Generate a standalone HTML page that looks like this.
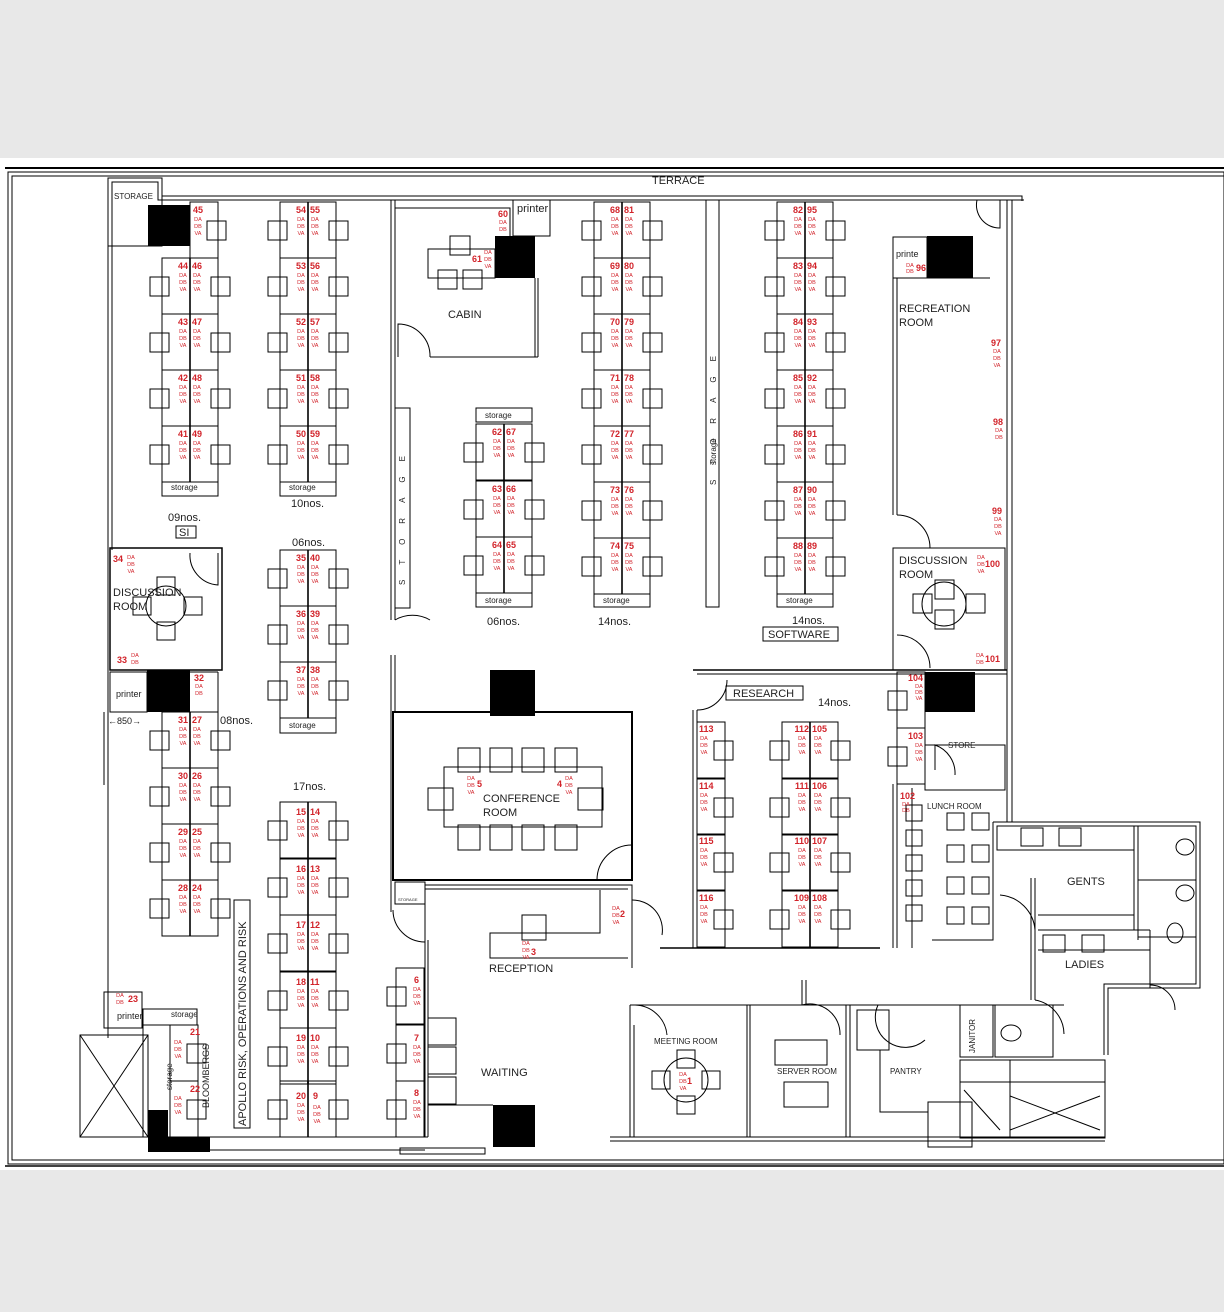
<!DOCTYPE html>
<html><head><meta charset="utf-8">
<style>
html,body{margin:0;padding:0;background:#e8e8e8;}
svg{display:block}
.n{font:bold 9px "Liberation Sans",sans-serif;fill:#d2232a}
.s{font:5.5px "Liberation Sans",sans-serif;fill:#d2232a;text-anchor:middle}
.t{font:11px "Liberation Sans",sans-serif;fill:#222}
.ts{font:8px "Liberation Sans",sans-serif;fill:#222}
.tm{font:9px "Liberation Sans",sans-serif;fill:#222}
</style></head><body>
<svg width="1224" height="1312" viewBox="0 0 1224 1312" xmlns="http://www.w3.org/2000/svg">
<defs>
<symbol id="pr" overflow="visible"><g fill="none" stroke="#000" stroke-width="1"><rect x="0" y="0" width="56" height="56"/><line x1="28" y1="0" x2="28" y2="56" stroke-width="1.6"/><rect x="-12" y="19" width="19" height="19"/><rect x="49" y="19" width="19" height="19"/></g></symbol>
<symbol id="sr" overflow="visible"><g fill="none" stroke="#000"><rect x="0" y="0" width="28" height="56"/><rect x="17" y="19" width="19" height="19"/></g></symbol>
<symbol id="sl" overflow="visible"><g fill="none" stroke="#000"><rect x="0" y="0" width="28" height="56"/><rect x="-9" y="19" width="19" height="19"/></g></symbol>
</defs>
<rect x="0" y="158" width="1224" height="1012" fill="#fff"/>
<g fill="none" stroke="#000" stroke-width="1">
<line x1="5" y1="168" x2="1224" y2="168" stroke-width="2"/>
<rect x="8" y="172" width="1216" height="992"/>
<rect x="12" y="176" width="1212" height="984"/>
<line x1="5" y1="1166" x2="1224" y2="1166" stroke-width="1.5"/>
<polyline points="108,246 108,178 162,178 162,196 1022,196 1022,201"/>
<polyline points="112,246 112,182 158,182 158,200 1000,200"/>
<rect x="108" y="178" width="54" height="68"/>
<line x1="108" y1="246" x2="108" y2="1038"/>
<line x1="112" y1="246" x2="112" y2="550"/>
<line x1="1007" y1="200" x2="1007" y2="822"/>
<line x1="1012" y1="200" x2="1012" y2="822"/>
<line x1="1000" y1="200" x2="1024" y2="200"/>
<path d="M977,200 A23,23 0 0 0 1000,228 L1000,200"/>
<line x1="391" y1="200" x2="391" y2="620"/><line x1="395" y1="200" x2="395" y2="620"/>
<polyline points="395,208 510,208 510,236"/>
<line x1="535" y1="278" x2="535" y2="357"/><line x1="538" y1="278" x2="538" y2="357"/>
<line x1="430" y1="357" x2="538" y2="357"/>
<path d="M398,357 L398,324 A32,32 0 0 1 430,357"/>
<rect x="513" y="200" width="37" height="36"/>
<rect x="428" y="249" width="67" height="29"/>
<rect x="450" y="236" width="20" height="19"/>
<rect x="438" y="270" width="19" height="19"/><rect x="463" y="270" width="19" height="19"/>
<rect x="395" y="408" width="15" height="200"/>
<rect x="706" y="200" width="13" height="407"/>
<line x1="391" y1="655" x2="391" y2="912"/><line x1="395" y1="655" x2="395" y2="712"/>
<path d="M395,620 A35,35 0 0 1 430,620"/>
<rect x="393" y="712" width="239" height="168" stroke-width="2"/>
<path d="M632,845 A35,35 0 0 0 597,880"/>
<rect x="444" y="767" width="158" height="60"/>
<rect x="458" y="748" width="22" height="24"/><rect x="490" y="748" width="22" height="24"/><rect x="522" y="748" width="22" height="24"/><rect x="555" y="748" width="22" height="24"/>
<rect x="458" y="825" width="22" height="25"/><rect x="490" y="825" width="22" height="25"/><rect x="522" y="825" width="22" height="25"/><rect x="555" y="825" width="22" height="25"/>
<rect x="428" y="788" width="25" height="22"/><rect x="578" y="788" width="25" height="22"/>
<rect x="395" y="882" width="30" height="22"/>
<path d="M393,910 A32,32 0 0 0 425,942"/>
<polyline points="425,885 632,885 632,968"/>
<line x1="425" y1="889" x2="628" y2="889"/>
<line x1="425" y1="889" x2="425" y2="1137"/><line x1="428" y1="940" x2="428" y2="1137"/>
<polyline points="600,890 600,933 490,933 490,958 628,958"/>
<rect x="522" y="915" width="24" height="25"/>
<path d="M632,900 A30,30 0 0 1 662,935"/>
<rect x="428" y="1018" width="28" height="27"/><rect x="428" y="1047" width="28" height="27"/><rect x="428" y="1077" width="28" height="27"/>
<line x1="428" y1="1105" x2="493" y2="1105"/>
<line x1="693" y1="670" x2="1007" y2="670" stroke-width="1.5"/><line x1="697" y1="674" x2="1007" y2="674"/>
<line x1="693" y1="710" x2="693" y2="948"/><line x1="697" y1="710" x2="697" y2="948"/>
<path d="M697,710 A30,30 0 0 0 727,680"/>
<rect x="726" y="686" width="77" height="14"/>
<line x1="660" y1="948" x2="880" y2="948" stroke-width="1.5"/>
<rect x="925" y="745" width="80" height="45"/>
<line x1="893" y1="784" x2="893" y2="948"/><line x1="897" y1="784" x2="897" y2="948"/>
<line x1="912" y1="788" x2="912" y2="948"/>
<path d="M935,770 L935,745 A30,30 0 0 1 955,775"/>
<rect x="947" y="813" width="17" height="17"/><rect x="972" y="813" width="17" height="17"/>
<rect x="947" y="845" width="17" height="17"/><rect x="972" y="845" width="17" height="17"/>
<rect x="947" y="877" width="17" height="17"/><rect x="972" y="877" width="17" height="17"/>
<rect x="947" y="907" width="17" height="17"/><rect x="972" y="907" width="17" height="17"/>
<rect x="906" y="805" width="16" height="16"/><rect x="906" y="830" width="16" height="16"/><rect x="906" y="855" width="16" height="16"/><rect x="906" y="880" width="16" height="16"/><rect x="906" y="905" width="16" height="16"/>
<polyline points="932,940 993,940 993,822"/>
<polyline points="993,822 1200,822 1200,988 1108,988 1108,1055"/>
<polyline points="997,826 1196,826 1196,984 1104,984 1104,1055"/>
<rect x="997" y="826" width="137" height="24"/>
<rect x="1021" y="828" width="22" height="18"/><rect x="1059" y="828" width="22" height="18"/>
<line x1="1134" y1="826" x2="1134" y2="930"/><line x1="1138" y1="826" x2="1138" y2="940"/>
<line x1="1138" y1="880" x2="1196" y2="880"/><line x1="1138" y1="937" x2="1196" y2="937"/>
<ellipse cx="1185" cy="847" rx="9" ry="8"/><ellipse cx="1185" cy="893" rx="9" ry="8"/><ellipse cx="1175" cy="933" rx="8" ry="10"/>
<line x1="1038" y1="915" x2="1134" y2="915"/><line x1="1038" y1="930" x2="1150" y2="930"/>
<line x1="1035" y1="878" x2="1035" y2="1000"/><line x1="1031" y1="878" x2="1031" y2="1000"/>
<path d="M1000,895 A38,38 0 0 1 1035,930"/>
<rect x="1043" y="935" width="22" height="17"/><rect x="1082" y="935" width="22" height="17"/>
<line x1="1038" y1="950" x2="1150" y2="950"/><line x1="1150" y1="930" x2="1150" y2="988"/>
<path d="M1035,1000 A35,35 0 0 1 1064,1034"/>
<path d="M1150,985 A25,25 0 0 1 1175,1010"/>
<line x1="630" y1="1005" x2="1064" y2="1005"/>
<line x1="630" y1="1005" x2="630" y2="1137"/><line x1="634" y1="1025" x2="634" y2="1137"/>
<line x1="747" y1="1005" x2="747" y2="1137"/><line x1="750" y1="1005" x2="750" y2="1137"/>
<line x1="846" y1="1005" x2="846" y2="1137"/><line x1="850" y1="1005" x2="850" y2="1137"/>
<line x1="802" y1="980" x2="802" y2="1005"/><line x1="806" y1="980" x2="806" y2="1005"/>
<path d="M634,1005 A33,33 0 0 1 667,1035"/>
<path d="M802,1005 A30,30 0 0 1 840,1035"/>
<path d="M878,1005 A30,30 0 0 0 925,1040"/>
<circle cx="686" cy="1080" r="22"/>
<rect x="677" y="1050" width="18" height="18"/><rect x="677" y="1096" width="18" height="18"/><rect x="652" y="1071" width="18" height="18"/><rect x="702" y="1071" width="18" height="18"/>
<rect x="775" y="1040" width="52" height="25"/><rect x="784" y="1082" width="44" height="25"/>
<rect x="857" y="1010" width="32" height="40"/>
<polyline points="880,1050 880,1112 928,1112"/>
<rect x="928" y="1102" width="44" height="45"/>
<rect x="960" y="1005" width="33" height="52"/>
<rect x="995" y="1005" width="58" height="52"/>
<ellipse cx="1011" cy="1033" rx="10" ry="8"/>
<rect x="960" y="1060" width="145" height="78"/>
<line x1="1010" y1="1060" x2="1010" y2="1138"/>
<line x1="960" y1="1082" x2="1105" y2="1082"/>
<path d="M1010,1096 L1100,1130 M1010,1130 L1100,1096 M964,1090 L1000,1130"/>
<line x1="610" y1="1137" x2="1105" y2="1137"/><line x1="610" y1="1141" x2="1105" y2="1141"/>
<rect x="110" y="548" width="112" height="122" stroke-width="1.5"/>
<path d="M218,553 L218,585 A30,30 0 0 1 190,553"/>
<circle cx="166" cy="606" r="20"/>
<rect x="157" y="577" width="18" height="18"/><rect x="157" y="622" width="18" height="18"/><rect x="133" y="597" width="18" height="18"/><rect x="184" y="597" width="18" height="18"/>
<rect x="110" y="672" width="37" height="40"/>
<line x1="190" y1="672" x2="218" y2="672"/><line x1="218" y1="672" x2="218" y2="712"/>
<line x1="104" y1="712" x2="104" y2="785"/>
<rect x="893" y="548" width="112" height="122"/>
<line x1="893" y1="237" x2="893" y2="515"/><line x1="897" y1="278" x2="897" y2="515"/>
<rect x="893" y="237" width="34" height="41"/><line x1="927" y1="278" x2="990" y2="278"/>
<path d="M897,515 A33,33 0 0 1 930,548"/>
<path d="M897,635 A33,33 0 0 1 930,668"/>
<circle cx="944" cy="604" r="22"/>
<rect x="935" y="580" width="19" height="19"/><rect x="935" y="610" width="19" height="19"/><rect x="913" y="594" width="19" height="19"/><rect x="966" y="594" width="19" height="19"/>
<rect x="104" y="992" width="38" height="36"/>
<rect x="143" y="1009" width="54" height="16"/>
<rect x="143" y="1025" width="27" height="112"/>
<path d="M80,1035 L148,1137 M148,1035 L80,1137"/><rect x="80" y="1035" width="68" height="102"/>
<rect x="234" y="900" width="16" height="228"/>
<line x1="108" y1="1137" x2="428" y2="1137"/><line x1="148" y1="1150" x2="425" y2="1150"/>
<rect x="400" y="1148" width="85" height="6"/>
<rect x="162" y="482" width="56" height="14"/><rect x="280" y="482" width="56" height="14"/>
<rect x="476" y="408" width="56" height="14"/><rect x="476" y="593" width="56" height="14"/>
<rect x="594" y="594" width="56" height="13"/><rect x="777" y="594" width="56" height="13"/>
<rect x="280" y="718" width="56" height="15"/>
<rect x="176" y="526" width="20" height="12"/>
<rect x="763" y="627" width="75" height="14"/>
</g>
<g fill="#000">
<rect x="148" y="205" width="42" height="41"/>
<rect x="495" y="236" width="40" height="42"/>
<rect x="927" y="236" width="46" height="42"/>
<rect x="147" y="670" width="43" height="42"/>
<rect x="490" y="670" width="45" height="46"/>
<rect x="925" y="672" width="50" height="40"/>
<rect x="493" y="1105" width="42" height="42"/>
<rect x="148" y="1110" width="20" height="42"/><rect x="168" y="1137" width="42" height="15"/>
</g>
<g transform="translate(190,202)"><use href="#sr"/><text class="n" x="3" y="11">45</text><text class="s"><tspan x="8" y="19">DA</tspan><tspan x="8" y="26">DB</tspan><tspan x="8" y="33">VA</tspan></text></g>
<g transform="translate(162,258)"><use href="#pr"/><text class="n" x="26" y="11" text-anchor="end">44</text><text class="n" x="30" y="11">46</text><text class="s"><tspan x="21" y="19">DA</tspan><tspan x="21" y="26">DB</tspan><tspan x="21" y="33">VA</tspan><tspan x="35" y="19">DA</tspan><tspan x="35" y="26">DB</tspan><tspan x="35" y="33">VA</tspan></text></g>
<g transform="translate(162,314)"><use href="#pr"/><text class="n" x="26" y="11" text-anchor="end">43</text><text class="n" x="30" y="11">47</text><text class="s"><tspan x="21" y="19">DA</tspan><tspan x="21" y="26">DB</tspan><tspan x="21" y="33">VA</tspan><tspan x="35" y="19">DA</tspan><tspan x="35" y="26">DB</tspan><tspan x="35" y="33">VA</tspan></text></g>
<g transform="translate(162,370)"><use href="#pr"/><text class="n" x="26" y="11" text-anchor="end">42</text><text class="n" x="30" y="11">48</text><text class="s"><tspan x="21" y="19">DA</tspan><tspan x="21" y="26">DB</tspan><tspan x="21" y="33">VA</tspan><tspan x="35" y="19">DA</tspan><tspan x="35" y="26">DB</tspan><tspan x="35" y="33">VA</tspan></text></g>
<g transform="translate(162,426)"><use href="#pr"/><text class="n" x="26" y="11" text-anchor="end">41</text><text class="n" x="30" y="11">49</text><text class="s"><tspan x="21" y="19">DA</tspan><tspan x="21" y="26">DB</tspan><tspan x="21" y="33">VA</tspan><tspan x="35" y="19">DA</tspan><tspan x="35" y="26">DB</tspan><tspan x="35" y="33">VA</tspan></text></g>
<g transform="translate(280,202)"><use href="#pr"/><text class="n" x="26" y="11" text-anchor="end">54</text><text class="n" x="30" y="11">55</text><text class="s"><tspan x="21" y="19">DA</tspan><tspan x="21" y="26">DB</tspan><tspan x="21" y="33">VA</tspan><tspan x="35" y="19">DA</tspan><tspan x="35" y="26">DB</tspan><tspan x="35" y="33">VA</tspan></text></g>
<g transform="translate(280,258)"><use href="#pr"/><text class="n" x="26" y="11" text-anchor="end">53</text><text class="n" x="30" y="11">56</text><text class="s"><tspan x="21" y="19">DA</tspan><tspan x="21" y="26">DB</tspan><tspan x="21" y="33">VA</tspan><tspan x="35" y="19">DA</tspan><tspan x="35" y="26">DB</tspan><tspan x="35" y="33">VA</tspan></text></g>
<g transform="translate(280,314)"><use href="#pr"/><text class="n" x="26" y="11" text-anchor="end">52</text><text class="n" x="30" y="11">57</text><text class="s"><tspan x="21" y="19">DA</tspan><tspan x="21" y="26">DB</tspan><tspan x="21" y="33">VA</tspan><tspan x="35" y="19">DA</tspan><tspan x="35" y="26">DB</tspan><tspan x="35" y="33">VA</tspan></text></g>
<g transform="translate(280,370)"><use href="#pr"/><text class="n" x="26" y="11" text-anchor="end">51</text><text class="n" x="30" y="11">58</text><text class="s"><tspan x="21" y="19">DA</tspan><tspan x="21" y="26">DB</tspan><tspan x="21" y="33">VA</tspan><tspan x="35" y="19">DA</tspan><tspan x="35" y="26">DB</tspan><tspan x="35" y="33">VA</tspan></text></g>
<g transform="translate(280,426)"><use href="#pr"/><text class="n" x="26" y="11" text-anchor="end">50</text><text class="n" x="30" y="11">59</text><text class="s"><tspan x="21" y="19">DA</tspan><tspan x="21" y="26">DB</tspan><tspan x="21" y="33">VA</tspan><tspan x="35" y="19">DA</tspan><tspan x="35" y="26">DB</tspan><tspan x="35" y="33">VA</tspan></text></g>
<g transform="translate(476,424)"><use href="#pr"/><text class="n" x="26" y="11" text-anchor="end">62</text><text class="n" x="30" y="11">67</text><text class="s"><tspan x="21" y="19">DA</tspan><tspan x="21" y="26">DB</tspan><tspan x="21" y="33">VA</tspan><tspan x="35" y="19">DA</tspan><tspan x="35" y="26">DB</tspan><tspan x="35" y="33">VA</tspan></text></g>
<g transform="translate(476,481)"><use href="#pr"/><text class="n" x="26" y="11" text-anchor="end">63</text><text class="n" x="30" y="11">66</text><text class="s"><tspan x="21" y="19">DA</tspan><tspan x="21" y="26">DB</tspan><tspan x="21" y="33">VA</tspan><tspan x="35" y="19">DA</tspan><tspan x="35" y="26">DB</tspan><tspan x="35" y="33">VA</tspan></text></g>
<g transform="translate(476,537)"><use href="#pr"/><text class="n" x="26" y="11" text-anchor="end">64</text><text class="n" x="30" y="11">65</text><text class="s"><tspan x="21" y="19">DA</tspan><tspan x="21" y="26">DB</tspan><tspan x="21" y="33">VA</tspan><tspan x="35" y="19">DA</tspan><tspan x="35" y="26">DB</tspan><tspan x="35" y="33">VA</tspan></text></g>
<g transform="translate(594,202)"><use href="#pr"/><text class="n" x="26" y="11" text-anchor="end">68</text><text class="n" x="30" y="11">81</text><text class="s"><tspan x="21" y="19">DA</tspan><tspan x="21" y="26">DB</tspan><tspan x="21" y="33">VA</tspan><tspan x="35" y="19">DA</tspan><tspan x="35" y="26">DB</tspan><tspan x="35" y="33">VA</tspan></text></g>
<g transform="translate(594,258)"><use href="#pr"/><text class="n" x="26" y="11" text-anchor="end">69</text><text class="n" x="30" y="11">80</text><text class="s"><tspan x="21" y="19">DA</tspan><tspan x="21" y="26">DB</tspan><tspan x="21" y="33">VA</tspan><tspan x="35" y="19">DA</tspan><tspan x="35" y="26">DB</tspan><tspan x="35" y="33">VA</tspan></text></g>
<g transform="translate(594,314)"><use href="#pr"/><text class="n" x="26" y="11" text-anchor="end">70</text><text class="n" x="30" y="11">79</text><text class="s"><tspan x="21" y="19">DA</tspan><tspan x="21" y="26">DB</tspan><tspan x="21" y="33">VA</tspan><tspan x="35" y="19">DA</tspan><tspan x="35" y="26">DB</tspan><tspan x="35" y="33">VA</tspan></text></g>
<g transform="translate(594,370)"><use href="#pr"/><text class="n" x="26" y="11" text-anchor="end">71</text><text class="n" x="30" y="11">78</text><text class="s"><tspan x="21" y="19">DA</tspan><tspan x="21" y="26">DB</tspan><tspan x="21" y="33">VA</tspan><tspan x="35" y="19">DA</tspan><tspan x="35" y="26">DB</tspan><tspan x="35" y="33">VA</tspan></text></g>
<g transform="translate(594,426)"><use href="#pr"/><text class="n" x="26" y="11" text-anchor="end">72</text><text class="n" x="30" y="11">77</text><text class="s"><tspan x="21" y="19">DA</tspan><tspan x="21" y="26">DB</tspan><tspan x="21" y="33">VA</tspan><tspan x="35" y="19">DA</tspan><tspan x="35" y="26">DB</tspan><tspan x="35" y="33">VA</tspan></text></g>
<g transform="translate(594,482)"><use href="#pr"/><text class="n" x="26" y="11" text-anchor="end">73</text><text class="n" x="30" y="11">76</text><text class="s"><tspan x="21" y="19">DA</tspan><tspan x="21" y="26">DB</tspan><tspan x="21" y="33">VA</tspan><tspan x="35" y="19">DA</tspan><tspan x="35" y="26">DB</tspan><tspan x="35" y="33">VA</tspan></text></g>
<g transform="translate(594,538)"><use href="#pr"/><text class="n" x="26" y="11" text-anchor="end">74</text><text class="n" x="30" y="11">75</text><text class="s"><tspan x="21" y="19">DA</tspan><tspan x="21" y="26">DB</tspan><tspan x="21" y="33">VA</tspan><tspan x="35" y="19">DA</tspan><tspan x="35" y="26">DB</tspan><tspan x="35" y="33">VA</tspan></text></g>
<g transform="translate(777,202)"><use href="#pr"/><text class="n" x="26" y="11" text-anchor="end">82</text><text class="n" x="30" y="11">95</text><text class="s"><tspan x="21" y="19">DA</tspan><tspan x="21" y="26">DB</tspan><tspan x="21" y="33">VA</tspan><tspan x="35" y="19">DA</tspan><tspan x="35" y="26">DB</tspan><tspan x="35" y="33">VA</tspan></text></g>
<g transform="translate(777,258)"><use href="#pr"/><text class="n" x="26" y="11" text-anchor="end">83</text><text class="n" x="30" y="11">94</text><text class="s"><tspan x="21" y="19">DA</tspan><tspan x="21" y="26">DB</tspan><tspan x="21" y="33">VA</tspan><tspan x="35" y="19">DA</tspan><tspan x="35" y="26">DB</tspan><tspan x="35" y="33">VA</tspan></text></g>
<g transform="translate(777,314)"><use href="#pr"/><text class="n" x="26" y="11" text-anchor="end">84</text><text class="n" x="30" y="11">93</text><text class="s"><tspan x="21" y="19">DA</tspan><tspan x="21" y="26">DB</tspan><tspan x="21" y="33">VA</tspan><tspan x="35" y="19">DA</tspan><tspan x="35" y="26">DB</tspan><tspan x="35" y="33">VA</tspan></text></g>
<g transform="translate(777,370)"><use href="#pr"/><text class="n" x="26" y="11" text-anchor="end">85</text><text class="n" x="30" y="11">92</text><text class="s"><tspan x="21" y="19">DA</tspan><tspan x="21" y="26">DB</tspan><tspan x="21" y="33">VA</tspan><tspan x="35" y="19">DA</tspan><tspan x="35" y="26">DB</tspan><tspan x="35" y="33">VA</tspan></text></g>
<g transform="translate(777,426)"><use href="#pr"/><text class="n" x="26" y="11" text-anchor="end">86</text><text class="n" x="30" y="11">91</text><text class="s"><tspan x="21" y="19">DA</tspan><tspan x="21" y="26">DB</tspan><tspan x="21" y="33">VA</tspan><tspan x="35" y="19">DA</tspan><tspan x="35" y="26">DB</tspan><tspan x="35" y="33">VA</tspan></text></g>
<g transform="translate(777,482)"><use href="#pr"/><text class="n" x="26" y="11" text-anchor="end">87</text><text class="n" x="30" y="11">90</text><text class="s"><tspan x="21" y="19">DA</tspan><tspan x="21" y="26">DB</tspan><tspan x="21" y="33">VA</tspan><tspan x="35" y="19">DA</tspan><tspan x="35" y="26">DB</tspan><tspan x="35" y="33">VA</tspan></text></g>
<g transform="translate(777,538)"><use href="#pr"/><text class="n" x="26" y="11" text-anchor="end">88</text><text class="n" x="30" y="11">89</text><text class="s"><tspan x="21" y="19">DA</tspan><tspan x="21" y="26">DB</tspan><tspan x="21" y="33">VA</tspan><tspan x="35" y="19">DA</tspan><tspan x="35" y="26">DB</tspan><tspan x="35" y="33">VA</tspan></text></g>
<g transform="translate(280,550)"><use href="#pr"/><text class="n" x="26" y="11" text-anchor="end">35</text><text class="n" x="30" y="11">40</text><text class="s"><tspan x="21" y="19">DA</tspan><tspan x="21" y="26">DB</tspan><tspan x="21" y="33">VA</tspan><tspan x="35" y="19">DA</tspan><tspan x="35" y="26">DB</tspan><tspan x="35" y="33">VA</tspan></text></g>
<g transform="translate(280,606)"><use href="#pr"/><text class="n" x="26" y="11" text-anchor="end">36</text><text class="n" x="30" y="11">39</text><text class="s"><tspan x="21" y="19">DA</tspan><tspan x="21" y="26">DB</tspan><tspan x="21" y="33">VA</tspan><tspan x="35" y="19">DA</tspan><tspan x="35" y="26">DB</tspan><tspan x="35" y="33">VA</tspan></text></g>
<g transform="translate(280,662)"><use href="#pr"/><text class="n" x="26" y="11" text-anchor="end">37</text><text class="n" x="30" y="11">38</text><text class="s"><tspan x="21" y="19">DA</tspan><tspan x="21" y="26">DB</tspan><tspan x="21" y="33">VA</tspan><tspan x="35" y="19">DA</tspan><tspan x="35" y="26">DB</tspan><tspan x="35" y="33">VA</tspan></text></g>
<g transform="translate(162,712)"><use href="#pr"/><text class="n" x="26" y="11" text-anchor="end">31</text><text class="n" x="30" y="11">27</text><text class="s"><tspan x="21" y="19">DA</tspan><tspan x="21" y="26">DB</tspan><tspan x="21" y="33">VA</tspan><tspan x="35" y="19">DA</tspan><tspan x="35" y="26">DB</tspan><tspan x="35" y="33">VA</tspan></text></g>
<g transform="translate(162,768)"><use href="#pr"/><text class="n" x="26" y="11" text-anchor="end">30</text><text class="n" x="30" y="11">26</text><text class="s"><tspan x="21" y="19">DA</tspan><tspan x="21" y="26">DB</tspan><tspan x="21" y="33">VA</tspan><tspan x="35" y="19">DA</tspan><tspan x="35" y="26">DB</tspan><tspan x="35" y="33">VA</tspan></text></g>
<g transform="translate(162,824)"><use href="#pr"/><text class="n" x="26" y="11" text-anchor="end">29</text><text class="n" x="30" y="11">25</text><text class="s"><tspan x="21" y="19">DA</tspan><tspan x="21" y="26">DB</tspan><tspan x="21" y="33">VA</tspan><tspan x="35" y="19">DA</tspan><tspan x="35" y="26">DB</tspan><tspan x="35" y="33">VA</tspan></text></g>
<g transform="translate(162,880)"><use href="#pr"/><text class="n" x="26" y="11" text-anchor="end">28</text><text class="n" x="30" y="11">24</text><text class="s"><tspan x="21" y="19">DA</tspan><tspan x="21" y="26">DB</tspan><tspan x="21" y="33">VA</tspan><tspan x="35" y="19">DA</tspan><tspan x="35" y="26">DB</tspan><tspan x="35" y="33">VA</tspan></text></g>
<g transform="translate(280,802)"><use href="#pr"/><text class="n" x="26" y="13" text-anchor="end">15</text><text class="n" x="30" y="13">14</text><text class="s"><tspan x="21" y="21">DA</tspan><tspan x="21" y="28">DB</tspan><tspan x="21" y="35">VA</tspan><tspan x="35" y="21">DA</tspan><tspan x="35" y="28">DB</tspan><tspan x="35" y="35">VA</tspan></text></g>
<g transform="translate(280,859)"><use href="#pr"/><text class="n" x="26" y="13" text-anchor="end">16</text><text class="n" x="30" y="13">13</text><text class="s"><tspan x="21" y="21">DA</tspan><tspan x="21" y="28">DB</tspan><tspan x="21" y="35">VA</tspan><tspan x="35" y="21">DA</tspan><tspan x="35" y="28">DB</tspan><tspan x="35" y="35">VA</tspan></text></g>
<g transform="translate(280,915)"><use href="#pr"/><text class="n" x="26" y="13" text-anchor="end">17</text><text class="n" x="30" y="13">12</text><text class="s"><tspan x="21" y="21">DA</tspan><tspan x="21" y="28">DB</tspan><tspan x="21" y="35">VA</tspan><tspan x="35" y="21">DA</tspan><tspan x="35" y="28">DB</tspan><tspan x="35" y="35">VA</tspan></text></g>
<g transform="translate(280,972)"><use href="#pr"/><text class="n" x="26" y="13" text-anchor="end">18</text><text class="n" x="30" y="13">11</text><text class="s"><tspan x="21" y="21">DA</tspan><tspan x="21" y="28">DB</tspan><tspan x="21" y="35">VA</tspan><tspan x="35" y="21">DA</tspan><tspan x="35" y="28">DB</tspan><tspan x="35" y="35">VA</tspan></text></g>
<g transform="translate(280,1028)"><use href="#pr"/><text class="n" x="26" y="13" text-anchor="end">19</text><text class="n" x="30" y="13">10</text><text class="s"><tspan x="21" y="21">DA</tspan><tspan x="21" y="28">DB</tspan><tspan x="21" y="35">VA</tspan><tspan x="35" y="21">DA</tspan><tspan x="35" y="28">DB</tspan><tspan x="35" y="35">VA</tspan></text></g>
<g transform="translate(280,1081)"><use href="#pr"/><text class="n" x="26" y="18" text-anchor="end">20</text><text class="n" x="33" y="18">9</text><text class="s"><tspan x="21" y="26">DA</tspan><tspan x="21" y="33">DB</tspan><tspan x="21" y="40">VA</tspan><tspan x="37" y="28">DA</tspan><tspan x="37" y="35">DB</tspan><tspan x="37" y="42">VA</tspan></text></g>
<g transform="translate(782,722)"><use href="#pr"/><text class="n" x="27" y="10" text-anchor="end">112</text><text class="n" x="30" y="10">105</text><text class="s"><tspan x="20" y="18">DA</tspan><tspan x="20" y="25">DB</tspan><tspan x="20" y="32">VA</tspan><tspan x="36" y="18">DA</tspan><tspan x="36" y="25">DB</tspan><tspan x="36" y="32">VA</tspan></text></g>
<g transform="translate(782,779)"><use href="#pr"/><text class="n" x="27" y="10" text-anchor="end">111</text><text class="n" x="30" y="10">106</text><text class="s"><tspan x="20" y="18">DA</tspan><tspan x="20" y="25">DB</tspan><tspan x="20" y="32">VA</tspan><tspan x="36" y="18">DA</tspan><tspan x="36" y="25">DB</tspan><tspan x="36" y="32">VA</tspan></text></g>
<g transform="translate(782,834)"><use href="#pr"/><text class="n" x="27" y="10" text-anchor="end">110</text><text class="n" x="30" y="10">107</text><text class="s"><tspan x="20" y="18">DA</tspan><tspan x="20" y="25">DB</tspan><tspan x="20" y="32">VA</tspan><tspan x="36" y="18">DA</tspan><tspan x="36" y="25">DB</tspan><tspan x="36" y="32">VA</tspan></text></g>
<g transform="translate(782,891)"><use href="#pr"/><text class="n" x="27" y="10" text-anchor="end">109</text><text class="n" x="30" y="10">108</text><text class="s"><tspan x="20" y="18">DA</tspan><tspan x="20" y="25">DB</tspan><tspan x="20" y="32">VA</tspan><tspan x="36" y="18">DA</tspan><tspan x="36" y="25">DB</tspan><tspan x="36" y="32">VA</tspan></text></g>
<g transform="translate(697,722)"><use href="#sr"/><text class="n" x="2" y="10">113</text><text class="s"><tspan x="7" y="18">DA</tspan><tspan x="7" y="25">DB</tspan><tspan x="7" y="32">VA</tspan></text></g>
<g transform="translate(697,779)"><use href="#sr"/><text class="n" x="2" y="10">114</text><text class="s"><tspan x="7" y="18">DA</tspan><tspan x="7" y="25">DB</tspan><tspan x="7" y="32">VA</tspan></text></g>
<g transform="translate(697,834)"><use href="#sr"/><text class="n" x="2" y="10">115</text><text class="s"><tspan x="7" y="18">DA</tspan><tspan x="7" y="25">DB</tspan><tspan x="7" y="32">VA</tspan></text></g>
<g transform="translate(697,891)"><use href="#sr"/><text class="n" x="2" y="10">116</text><text class="s"><tspan x="7" y="18">DA</tspan><tspan x="7" y="25">DB</tspan><tspan x="7" y="32">VA</tspan></text></g>
<g transform="translate(897,672)"><use href="#sl"/><text class="n" x="11" y="9">104</text><text class="s"><tspan x="22" y="16">DA</tspan><tspan x="22" y="22">DB</tspan><tspan x="22" y="28">VA</tspan></text></g>
<g transform="translate(897,728)"><use href="#sl"/><text class="n" x="11" y="11">103</text><text class="s"><tspan x="22" y="19">DA</tspan><tspan x="22" y="26">DB</tspan><tspan x="22" y="33">VA</tspan></text></g>
<g transform="translate(396,968)"><use href="#sl"/><text class="n" x="18" y="15">6</text><text class="s"><tspan x="21" y="23">DA</tspan><tspan x="21" y="30">DB</tspan><tspan x="21" y="37">VA</tspan></text></g>
<g transform="translate(396,1025)"><use href="#sl"/><text class="n" x="18" y="16">7</text><text class="s"><tspan x="21" y="24">DA</tspan><tspan x="21" y="31">DB</tspan><tspan x="21" y="38">VA</tspan></text></g>
<g transform="translate(396,1081)"><use href="#sl"/><text class="n" x="18" y="15">8</text><text class="s"><tspan x="21" y="23">DA</tspan><tspan x="21" y="30">DB</tspan><tspan x="21" y="37">VA</tspan></text></g>
<g transform="translate(170,1025)"><use href="#sr"/><text class="n" x="20" y="10">21</text><text class="s"><tspan x="8" y="19">DA</tspan><tspan x="8" y="26">DB</tspan><tspan x="8" y="33">VA</tspan></text></g>
<g transform="translate(170,1081)"><use href="#sr"/><text class="n" x="20" y="11">22</text><text class="s"><tspan x="8" y="19">DA</tspan><tspan x="8" y="26">DB</tspan><tspan x="8" y="33">VA</tspan></text></g>
<text class="n" x="498" y="217">60</text><text class="s"><tspan x="503" y="224">DA</tspan><tspan x="503" y="231">DB</tspan></text>
<text class="n" x="472" y="262">61</text><text class="s"><tspan x="488" y="254">DA</tspan><tspan x="488" y="261">DB</tspan><tspan x="488" y="268">VA</tspan></text>
<text class="s"><tspan x="910" y="267">DA</tspan><tspan x="910" y="273">DB</tspan></text><text class="n" x="916" y="271">96</text>
<text class="n" x="991" y="346">97</text><text class="s"><tspan x="997" y="353">DA</tspan><tspan x="997" y="360">DB</tspan><tspan x="997" y="367">VA</tspan></text>
<text class="n" x="993" y="425">98</text><text class="s"><tspan x="999" y="432">DA</tspan><tspan x="999" y="439">DB</tspan></text>
<text class="n" x="992" y="514">99</text><text class="s"><tspan x="998" y="521">DA</tspan><tspan x="998" y="528">DB</tspan><tspan x="998" y="535">VA</tspan></text>
<text class="s"><tspan x="981" y="559">DA</tspan><tspan x="981" y="566">DB</tspan><tspan x="981" y="573">VA</tspan></text><text class="n" x="985" y="567">100</text>
<text class="s"><tspan x="980" y="657">DA</tspan><tspan x="980" y="664">DB</tspan></text><text class="n" x="985" y="662">101</text>
<text class="n" x="900" y="799">102</text><text class="s"><tspan x="906" y="806">DA</tspan><tspan x="906" y="812">DB</tspan></text>
<text class="n" x="113" y="562">34</text><text class="s"><tspan x="131" y="559">DA</tspan><tspan x="131" y="566">DB</tspan><tspan x="131" y="573">VA</tspan></text>
<text class="n" x="117" y="663">33</text><text class="s"><tspan x="135" y="657">DA</tspan><tspan x="135" y="664">DB</tspan></text>
<text class="n" x="194" y="681">32</text><text class="s"><tspan x="199" y="688">DA</tspan><tspan x="199" y="695">DB</tspan></text>
<text class="s"><tspan x="120" y="997">DA</tspan><tspan x="120" y="1004">DB</tspan></text><text class="n" x="128" y="1002">23</text>
<text class="s"><tspan x="471" y="780">DA</tspan><tspan x="471" y="787">DB</tspan><tspan x="471" y="794">VA</tspan></text><text class="n" x="477" y="787">5</text>
<text class="n" x="557" y="787">4</text><text class="s"><tspan x="569" y="780">DA</tspan><tspan x="569" y="787">DB</tspan><tspan x="569" y="794">VA</tspan></text>
<text class="s"><tspan x="616" y="910">DA</tspan><tspan x="616" y="917">DB</tspan><tspan x="616" y="924">VA</tspan></text><text class="n" x="620" y="917">2</text>
<text class="s"><tspan x="526" y="945">DA</tspan><tspan x="526" y="952">DB</tspan><tspan x="526" y="959">VA</tspan></text><text class="n" x="531" y="955">3</text>
<text class="s"><tspan x="683" y="1076">DA</tspan><tspan x="683" y="1083">DB</tspan><tspan x="683" y="1090">VA</tspan></text><text class="n" x="687" y="1084">1</text>
<text class="ts" x="114" y="199">STORAGE</text>
<text class="t" x="652" y="184">TERRACE</text>
<text class="t" x="517" y="212">printer</text>
<text class="t" x="448" y="318">CABIN</text>
<text class="ts" x="171" y="490">storage</text><text class="ts" x="289" y="490">storage</text>
<text class="ts" x="485" y="418">storage</text><text class="ts" x="485" y="603">storage</text>
<text class="ts" x="603" y="603">storage</text><text class="ts" x="786" y="603">storage</text>
<text class="ts" x="289" y="728">storage</text>
<text class="t" x="168" y="521">09nos.</text><text class="t" x="179" y="536">SI</text>
<text class="t" x="291" y="507">10nos.</text>
<text class="t" x="292" y="546">06nos.</text>
<text class="t" x="487" y="625">06nos.</text>
<text class="t" x="598" y="625">14nos.</text>
<text class="t" x="792" y="624">14nos.</text>
<text class="t" x="768" y="638">SOFTWARE</text>
<text class="t" x="733" y="697">RESEARCH</text>
<text class="t" x="818" y="706">14nos.</text>
<text class="t" x="220" y="724">08nos.</text>
<text class="t" x="293" y="790">17nos.</text>
<text class="tm" x="108" y="724">←850→</text>
<text class="tm" x="116" y="697">printer</text>
<text class="t" x="113" y="596">DISCUSSION</text><text class="t" x="113" y="610">ROOM</text>
<text class="t" x="899" y="312">RECREATION</text><text class="t" x="899" y="326">ROOM</text>
<text class="t" x="899" y="564">DISCUSSION</text><text class="t" x="899" y="578">ROOM</text>
<text class="tm" x="896" y="257">printe</text>
<text class="t" x="483" y="802">CONFERENCE</text><text class="t" x="483" y="816">ROOM</text>
<text class="t" x="489" y="972">RECEPTION</text>
<text class="t" x="481" y="1076">WAITING</text>
<text class="ts" x="948" y="748">STORE</text>
<text class="ts" x="927" y="809">LUNCH ROOM</text>
<text class="t" x="1067" y="885">GENTS</text>
<text class="t" x="1065" y="968">LADIES</text>
<text class="ts" x="654" y="1044">MEETING ROOM</text>
<text class="ts" x="777" y="1074">SERVER ROOM</text>
<text class="ts" x="890" y="1074">PANTRY</text>
<text class="ts" transform="translate(975,1053) rotate(-90)">JANITOR</text>
<text class="tm" x="117" y="1019">printer</text>
<text class="ts" x="171" y="1017">storage</text>
<text class="ts" transform="translate(172,1090) rotate(-90)">storage</text>
<text class="tm" transform="translate(209,1108) rotate(-90)">BLOOMBERGS</text>
<text class="t" transform="translate(246,1126) rotate(-90)">APOLLO RISK, OPERATIONS AND RISK</text>
<text class="ts" transform="translate(405,585) rotate(-90)" letter-spacing="15">STORAGE</text>
<text class="ts" transform="translate(716,485) rotate(-90)" letter-spacing="15">STORAGE</text>
<text class="ts" transform="translate(716,465) rotate(-90)">storage</text>
<text style="font:4px 'Liberation Sans',sans-serif;fill:#222" x="398" y="901">STORAGE</text>
</svg>
</body></html>
